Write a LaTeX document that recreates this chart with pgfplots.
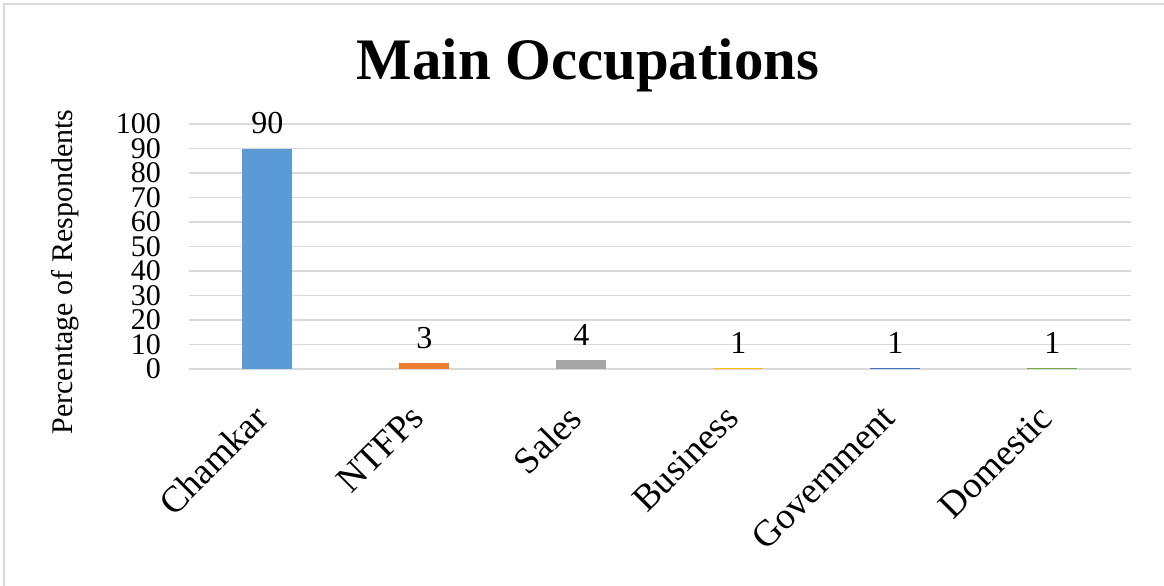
\documentclass[border=0pt]{standalone}
\usepackage{pgfplots}
\pgfplotsset{compat=1.18}
\usepackage{fontspec}
\setmainfont{Liberation Serif}
\definecolor{c1}{HTML}{5B9BD5}
\definecolor{c2}{HTML}{ED7D31}
\definecolor{c3}{HTML}{A5A5A5}
\definecolor{c4}{HTML}{FFC000}
\definecolor{c5}{HTML}{4472C4}
\definecolor{c6}{HTML}{70AD47}
\definecolor{gridc}{HTML}{D9D9D9}
\begin{document}
\begin{tikzpicture}[x=1pt,y=1pt]
\useasboundingbox (-94.5,-108) rectangle (487.5,184.5);
\draw[gridc, line width=1pt] (-92.5,-120) -- (-92.5,182.5) -- (490,182.5);
\begin{axis}[
  at={(0,0)}, anchor=south west,
  scale only axis, width=471pt, height=122.5pt,
  xmin=-0.5, xmax=5.5, ymin=0, ymax=100,
  ybar, bar width=25pt, bar shift=0pt,
  axis line style={draw=none},
  ytick={0,10,...,100},
  ymajorgrids, grid style={gridc, line width=0.9pt},
  tick style={draw=none},
  xtick={0,1,2,3,4,5},
  xticklabels={Chamkar,NTFPs,Sales,Business,Government,Domestic},
  /pgf/number format/assume math mode=true,
  yticklabel style={font=\fontsize{15}{15}\selectfont, xshift=-10.5pt},
  xticklabel style={font=\fontsize{18.5}{20}\selectfont, rotate=45, anchor=north east, xshift=-11pt, yshift=0pt},
  point meta=explicit,
  nodes near coords,
  every node near coord/.append style={font=\fontsize{16}{18}\selectfont, black, yshift=3.7pt},
  clip=false,
]
\addplot[fill=c1, draw=none] coordinates {(0,90) [90]};
\addplot[fill=c2, draw=none] coordinates {(1,2.5) [3]};
\addplot[fill=c3, draw=none] coordinates {(2,3.7) [4]};
\addplot[fill=c4, draw=none] coordinates {(3,0.4) [1]};
\addplot[fill=c5, draw=none] coordinates {(4,0.4) [1]};
\addplot[fill=c6, draw=none] coordinates {(5,0.4) [1]};
\end{axis}
\node[font=\fontsize{15}{15}\selectfont, rotate=90] at (-62,48.5) {Percentage of Respondents};
\node[font=\fontsize{29.4}{32}\selectfont\bfseries] at (199.5,152) {Main Occupations};
\end{tikzpicture}
\end{document}
